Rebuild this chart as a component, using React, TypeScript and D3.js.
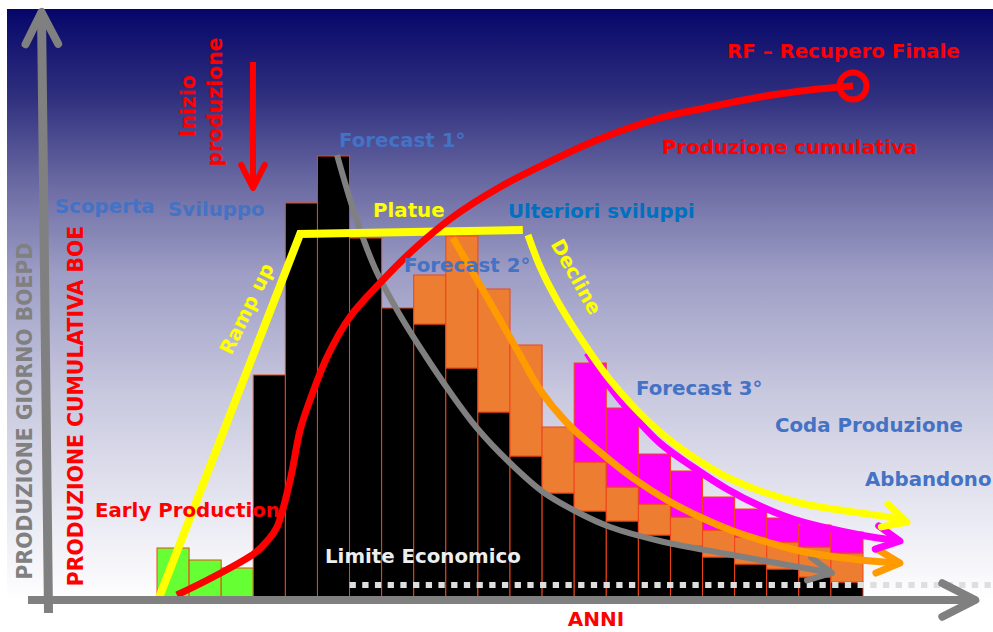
import React from 'react';
import * as d3 from 'd3';

const W = 993;
const H = 632;

// ---- data (year index, production units) ----
const earlyYears = [0, 1, 2];
const earlyProduction = [50, 38, 30];

const baseYears = [3, 4, 5, 6, 7, 8, 9, 10, 11, 12, 13, 14, 15, 16, 17, 18, 19, 20, 21];
const baseProduction = [223, 395, 442, 360, 290, 274, 230, 186, 142, 105, 87, 77, 63, 52, 41, 34, 29, 21, 16];

const forecast2Years = [8, 9, 10, 11, 12, 13, 14, 15, 16, 17, 18, 19, 20, 21];
const forecast2Extra = [49, 132, 123, 111, 66, 49, 34, 31, 29, 27, 27, 27, 30, 29];

const forecast3Years = [13, 14, 15, 16, 17, 18, 19, 20, 21];
const forecast3Extra = [99, 79, 50, 46, 33, 28, 24, 22, 21];

type P = [number, number];

const cumulativeCurve: P[] = [
  [0.62, 3], [1.75, 21], [3.05, 45], [3.46, 58], [3.74, 71], [4.15, 118], [4.46, 168],
  [4.77, 198], [5.3, 241], [6.01, 281], [6.95, 315], [7.98, 348], [9.22, 381], [10.69, 411],
  [12.15, 435], [13.71, 458], [15.67, 480], [17.23, 491], [18.79, 501], [20.35, 508], [21.69, 512],
];

const rampPlateau: P[] = [[0, -5], [4.46, 364], [11.4, 368]];

const declineCurve: P[] = [
  [11.56, 363], [11.94, 331], [12.46, 298], [13.09, 265], [14.12, 218], [15.36, 175],
  [16.52, 145], [17.95, 118], [20.04, 95], [22.94, 80], [23.37, 76],
];

const forecast1Curve: P[] = [
  [5.61, 443], [6.17, 383], [6.79, 330], [7.57, 283], [8.35, 243], [9.13, 206], [9.97, 170],
  [11.0, 135], [12.03, 106], [13.09, 86], [14.12, 71], [15.67, 57], [17.76, 44], [19.82, 32], [21.03, 25],
];

const forecast2Curve: P[] = [
  [9.22, 360], [9.85, 325], [10.69, 278], [11.31, 243], [11.94, 208], [12.78, 175], [13.8, 146],
  [14.83, 120], [15.89, 98], [16.92, 81], [17.95, 67], [19.01, 56], [20.04, 47], [21.91, 38], [23.15, 35],
];

const forecast3Curve: P[] = [
  [13.4, 245], [14.02, 215], [14.83, 183], [15.67, 155], [16.7, 131], [17.76, 109], [18.79, 92],
  [19.82, 79], [20.88, 70], [21.91, 63], [23.15, 57],
];

const economicLimit = 13;
const economicLimitStart = 6;

const FONT = "'DejaVu Sans', Verdana, sans-serif";

function chevron(p1: P, p2: P, len: number, spread: number) {
  const ang = Math.atan2(p2[1] - p1[1], p2[0] - p1[0]);
  const a1 = ang + Math.PI - spread;
  const a2 = ang + Math.PI + spread;
  return `M${p2[0] + len * Math.cos(a1)},${p2[1] + len * Math.sin(a1)}L${p2[0]},${p2[1]}L${p2[0] + len * Math.cos(a2)},${p2[1] + len * Math.sin(a2)}`;
}

export default function App() {
  const x = d3.scaleLinear().domain([0, 22]).range([157, 863]);
  const y = d3.scaleLinear().domain([0, 450]).range([598, 148]);

  const smooth = d3
    .line<P>()
    .x((d) => x(d[0]))
    .y((d) => y(d[1]))
    .curve(d3.curveCatmullRom.alpha(0.5));
  const poly = d3
    .line<P>()
    .x((d) => x(d[0]))
    .y((d) => y(d[1]));

  const scr = (d: P): P => [x(d[0]), y(d[1])];
  const arrowFor = (c: P[], len = 26) => chevron(scr(c[c.length - 2]), scr(c[c.length - 1]), len, 0.47);

  type Bar = { yr: number; y0: number; y1: number; fill: string };
  const bars: Bar[] = [];
  earlyYears.forEach((yr, i) => bars.push({ yr, y0: 0, y1: earlyProduction[i], fill: '#66ff33' }));
  baseYears.forEach((yr, i) => bars.push({ yr, y0: 0, y1: baseProduction[i], fill: '#000000' }));
  const baseAt = (yr: number) => baseProduction[baseYears.indexOf(yr)];
  const f2At = (yr: number) => forecast2Extra[forecast2Years.indexOf(yr)];
  forecast2Years.forEach((yr, i) => {
    const b = baseAt(yr);
    bars.push({ yr, y0: b, y1: b + forecast2Extra[i], fill: '#ed7d31' });
  });
  forecast3Years.forEach((yr, i) => {
    const b = baseAt(yr) + f2At(yr);
    bars.push({ yr, y0: b, y1: b + forecast3Extra[i], fill: '#ff00ff' });
  });

  const axisY = y(-2);
  const axisX0 = x(-4.02);
  const axisX1 = x(25.5);

  const blue = '#4472c4';
  const FS = 19.8;
  const txt = (s: string, px: number, py: number, fill: string) => (
    <text x={px} y={py} fill={fill} fontFamily={FONT} fontWeight={700} fontSize={FS}>
      {s}
    </text>
  );

  return (
    <svg
      width={W}
      height={H}
      viewBox={`0 0 ${W} ${H}`}
      style={{ position: 'absolute', left: 0, top: 0, background: '#fff' }}
    >
      <defs>
        <linearGradient id="bg" x1="0" y1="0" x2="0" y2="1">
          <stop offset="0" stopColor="#06066a" />
          <stop offset="0.15" stopColor="#30307f" />
          <stop offset="0.3" stopColor="#6c6ca4" />
          <stop offset="0.45" stopColor="#9e9ec6" />
          <stop offset="0.65" stopColor="#c8c8df" />
          <stop offset="0.85" stopColor="#e8e8f2" />
          <stop offset="1" stopColor="#ffffff" />
        </linearGradient>
      </defs>
      <rect x={7} y={9} width={W - 7} height={592} fill="url(#bg)" />

      {/* bars */}
      <g>
        {bars.map((b, i) => (
          <rect
            key={i}
            x={x(b.yr)}
            width={x(b.yr + 1) - x(b.yr)}
            y={y(b.y1)}
            height={y(b.y0) - y(b.y1)}
            fill={b.fill}
            stroke="#f04418"
            strokeWidth={1}
          />
        ))}
      </g>

      {/* economic limit */}
      <line
        x1={x(economicLimitStart)}
        x2={W}
        y1={y(economicLimit)}
        y2={y(economicLimit)}
        stroke="#dedede"
        strokeWidth={6}
        strokeDasharray="6.3 6.4"
      />

      {/* forecast curves */}
      <path d={smooth(forecast1Curve) || ''} fill="none" stroke="#808080" strokeWidth={6} />
      <path d={arrowFor(forecast1Curve)} fill="none" stroke="#808080" strokeWidth={6} strokeLinecap="round" strokeLinejoin="round" />

      <path d={smooth(forecast2Curve) || ''} fill="none" stroke="#ff9a00" strokeWidth={7} />
      <path d={arrowFor(forecast2Curve)} fill="none" stroke="#ff9a00" strokeWidth={7} strokeLinecap="round" strokeLinejoin="round" />

      <path d={smooth(forecast3Curve) || ''} fill="none" stroke="#ff00ff" strokeWidth={7} />
      <path d={arrowFor(forecast3Curve)} fill="none" stroke="#ff00ff" strokeWidth={7} strokeLinecap="round" strokeLinejoin="round" />

      <path d={poly(rampPlateau) || ''} fill="none" stroke="#ffff00" strokeWidth={8} />
      <path d={smooth(declineCurve) || ''} fill="none" stroke="#ffff00" strokeWidth={7} />
      <path d={arrowFor(declineCurve)} fill="none" stroke="#ffff00" strokeWidth={7} strokeLinecap="round" strokeLinejoin="round" />

      {/* cumulative production */}
      <path d={smooth(cumulativeCurve) || ''} fill="none" stroke="#ff0000" strokeWidth={7} />
      {(() => {
        const [cx, cy] = scr(cumulativeCurve[cumulativeCurve.length - 1]);
        return <circle cx={cx} cy={cy} r={13.5} fill="none" stroke="#ff0000" strokeWidth={6} />;
      })()}

      {/* axes */}
      <line x1={axisX0} y1={axisY} x2={axisX1} y2={axisY} stroke="#808080" strokeWidth={8} />
      <path d={chevron([axisX0, axisY], [axisX1, axisY], 37, 0.47)} fill="none" stroke="#808080" strokeWidth={8} strokeLinecap="round" strokeLinejoin="round" />
      <line x1={48.5} y1={613} x2={41.5} y2={12} stroke="#808080" strokeWidth={9} />
      <path d={chevron([48.5, 613], [41.5, 12], 36, 0.47)} fill="none" stroke="#808080" strokeWidth={8} strokeLinecap="round" strokeLinejoin="round" />

      {/* start of production arrow */}
      <line x1={253} y1={62} x2={253} y2={184} stroke="#ff0000" strokeWidth={6} />
      <path d={chevron([253, 62], [253, 188], 26, 0.47)} fill="none" stroke="#ff0000" strokeWidth={6} strokeLinecap="round" strokeLinejoin="round" />

      {/* axis titles */}
      <text transform="translate(32,411) rotate(-90)" textAnchor="middle" fill="#808080" fontFamily={FONT} fontWeight={700} fontSize={20.4}>
        PRODUZIONE GIORNO BOEPD
      </text>
      <text transform="translate(83,406) rotate(-90)" textAnchor="middle" fill="#ff0000" fontFamily={FONT} fontWeight={700} fontSize={20.4}>
        PRODUZIONE CUMULATIVA BOE
      </text>
      <text x={596} y={626} textAnchor="middle" fill="#ff0000" fontFamily={FONT} fontWeight={700} fontSize={20}>
        ANNI
      </text>

      {/* annotations */}
      <text transform="translate(195,106) rotate(-90)" textAnchor="middle" fill="#ff0000" fontFamily={FONT} fontWeight={700} fontSize={20.4}>
        Inizio
      </text>
      <text transform="translate(222,102) rotate(-90)" textAnchor="middle" fill="#ff0000" fontFamily={FONT} fontWeight={700} fontSize={20.4}>
        produzione
      </text>
      {txt('Scoperta', 55, 213, blue)}
      {txt('Sviluppo', 168, 216, blue)}
      {txt('Forecast 1°', 339, 147, blue)}
      {txt('Platue', 373, 217, '#ffff00')}
      {txt('Ulteriori sviluppi', 508, 218, '#0070c0')}
      {txt('Forecast 2°', 404, 272, blue)}
      {txt('Forecast 3°', 636, 395, blue)}
      {txt('Coda Produzione', 775, 432, blue)}
      {txt('Abbandono', 865, 486, blue)}
      {txt('Early Production', 95, 517, '#ff0000')}
      {txt('Limite Economico', 325, 563, '#eeeeee')}
      {txt('RF – Recupero Finale', 727, 58, '#ff0000')}
      {txt('Produzione cumulativa', 662, 154, '#ff0000')}
      <text transform="translate(247,309) rotate(-64)" textAnchor="middle" dominantBaseline="central" fill="#ffff00" fontFamily={FONT} fontWeight={700} fontSize={FS}>
        Ramp up
      </text>
      <text transform="translate(576,277) rotate(61)" textAnchor="middle" dominantBaseline="central" fill="#ffff00" fontFamily={FONT} fontWeight={700} fontSize={FS}>
        Decline
      </text>
    </svg>
  );
}
